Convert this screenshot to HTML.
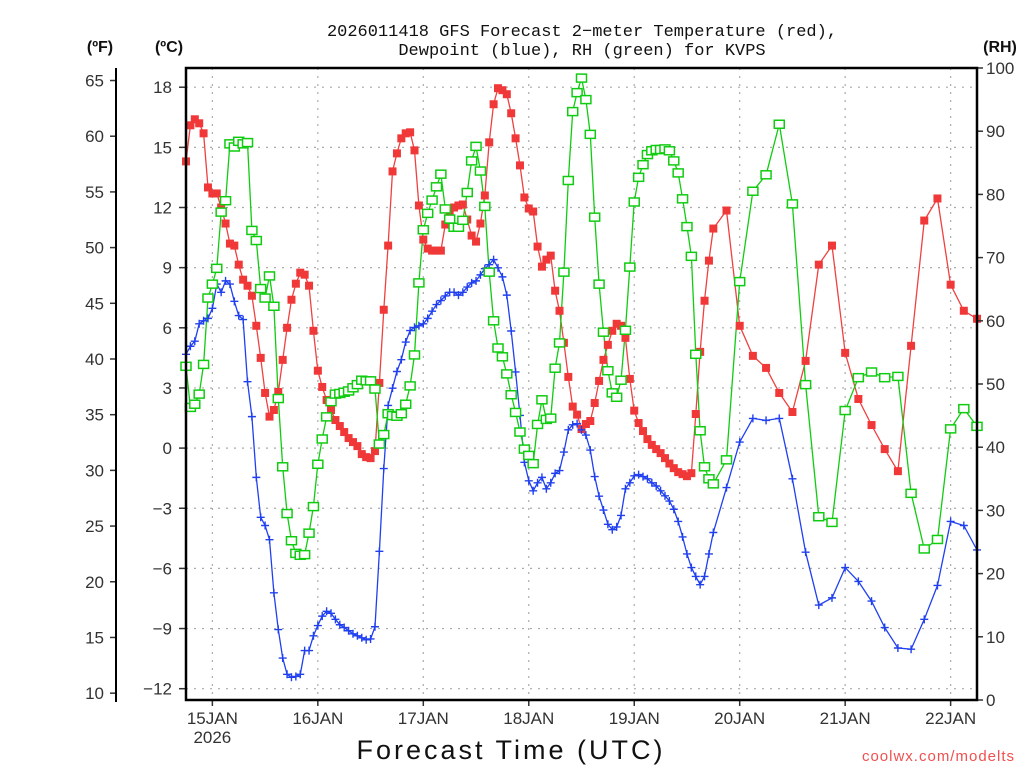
<!DOCTYPE html>
<html><head><meta charset="utf-8"><style>
html,body{margin:0;padding:0;background:#fff;}
svg{display:block;font-family:"Liberation Sans","DejaVu Sans",sans-serif;}
</style></head><body>
<svg id="chart" width="1024" height="768" viewBox="0 0 1024 768" xmlns="http://www.w3.org/2000/svg">
<rect x="0" y="0" width="1024" height="768" fill="#fff"/>
<g id="grid"></g>
<g id="series"></g>
<g id="axes"></g>
<text x="582" y="36" text-anchor="middle" font-size="17" fill="#111" font-family="Liberation Mono, monospace">2026011418 GFS Forecast 2−meter Temperature (red),</text>
<text x="582" y="55" text-anchor="middle" font-size="17" fill="#111" font-family="Liberation Mono, monospace">Dewpoint (blue), RH (green) for KVPS</text>
<text x="100" y="52" text-anchor="middle" font-size="16" font-weight="bold" fill="#111">(ºF)</text>
<text x="169" y="52" text-anchor="middle" font-size="16" font-weight="bold" fill="#111">(ºC)</text>
<text x="1000" y="52" text-anchor="middle" font-size="16" font-weight="bold" fill="#111">(RH)</text>
<text x="511" y="759" text-anchor="middle" font-size="27" letter-spacing="3" fill="#111">Forecast Time (UTC)</text>
<text x="1015" y="761" text-anchor="end" font-size="15" letter-spacing="1" fill="#f05050">coolwx.com/modelts</text>
</svg>
<script>
const hours=[0,1,2,3,4,5,6,7,8,9,10,11,12,13,14,15,16,17,18,19,20,21,22,23,24,25,26,27,28,29,30,31,32,33,34,35,36,37,38,39,40,41,42,43,44,45,46,47,48,49,50,51,52,53,54,55,56,57,58,59,60,61,62,63,64,65,66,67,68,69,70,71,72,73,74,75,76,77,78,79,80,81,82,83,84,85,86,87,88,89,90,91,92,93,94,95,96,97,98,99,100,101,102,103,104,105,106,107,108,109,110,111,112,113,114,115,116,117,118,119,120,123,126,129,132,135,138,141,144,147,150,153,156,159,162,165,168,171,174,177,180];
const tempC=[14.3,16.1,16.4,16.2,15.7,13.0,12.7,12.7,12.0,11.2,10.2,10.1,9.15,8.4,8.1,7.6,6.1,4.5,2.75,1.57,1.9,2.8,4.4,6.0,7.4,8.2,8.75,8.65,8.1,5.85,3.86,3.05,2.4,1.9,1.4,1.1,0.8,0.5,0.3,0.1,-0.3,-0.45,-0.5,-0.15,3.25,6.9,10.1,13.8,14.7,15.45,15.7,15.75,14.85,12.1,10.4,9.95,9.85,9.85,9.85,11.15,11.6,12.0,12.1,12.15,11.4,10.6,10.3,11.2,12.6,15.25,17.15,17.95,17.85,17.65,16.7,15.45,14.1,12.5,11.95,11.8,10.05,9.05,9.4,9.6,7.85,6.85,5.25,3.55,2.07,1.67,0.95,1.2,1.35,2.25,3.35,4.4,5.15,5.85,6.2,6.1,5.5,3.45,1.87,1.25,0.85,0.45,0.16,-0.05,-0.25,-0.5,-0.77,-1.0,-1.2,-1.3,-1.4,-1.25,1.7,4.8,7.35,9.35,10.95,11.85,6.1,4.6,4.0,2.75,1.8,4.35,9.15,10.1,4.75,2.45,1.15,-0.05,-1.15,5.1,11.35,12.45,8.15,6.85,6.45];
const dewC=[4.68,5.08,5.33,6.2,6.35,6.47,6.97,8.18,7.77,8.34,8.18,7.32,6.61,6.41,3.31,1.57,-1.46,-3.45,-3.86,-4.57,-7.22,-9.05,-10.47,-11.28,-11.43,-11.39,-11.28,-10.1,-10.1,-9.36,-8.85,-8.38,-8.14,-8.24,-8.54,-8.81,-8.95,-9.11,-9.26,-9.36,-9.46,-9.56,-9.52,-8.91,-5.15,-1.02,2.13,2.99,3.82,4.41,5.29,5.86,6.02,6.1,6.2,6.47,6.83,7.16,7.36,7.59,7.77,7.77,7.63,7.77,8.03,8.24,8.34,8.64,8.95,9.15,9.4,8.99,8.54,7.63,5.84,3.8,1.63,-0.71,-1.63,-2.13,-1.73,-1.46,-2.03,-1.73,-1.26,-1.12,-0.2,0.91,1.16,1.22,0.91,0.65,-0.1,-1.42,-2.4,-3.09,-3.8,-4.07,-3.93,-3.36,-2.03,-1.73,-1.38,-1.32,-1.42,-1.53,-1.73,-1.89,-2.13,-2.38,-2.64,-3.05,-3.66,-4.43,-5.28,-5.96,-6.4,-6.81,-6.4,-5.28,-4.21,-1.97,0.3,1.48,1.38,1.48,-1.53,-5.19,-7.83,-7.47,-5.96,-6.65,-7.63,-8.95,-9.97,-10.03,-8.54,-6.85,-3.66,-3.86,-5.08];
const rhPct=[52.8,46.3,46.8,48.4,53.1,63.6,65.8,68.3,77.2,79.0,88.0,87.5,88.4,88.0,88.2,74.3,72.7,65.1,63.6,67.1,62.3,47.7,36.9,29.5,25.2,23.2,22.9,23.0,26.4,30.6,37.3,41.3,44.8,47.2,48.4,48.5,48.7,48.9,49.4,49.9,50.6,50.5,50.5,49.2,40.5,42.0,45.3,45.0,44.9,45.3,46.8,49.7,54.6,66.0,74.4,77.0,79.1,81.2,83.2,77.7,76.1,74.8,74.8,75.9,80.3,85.3,87.6,83.7,78.1,67.7,60.0,55.7,54.3,51.6,48.3,45.5,42.4,39.7,38.7,37.4,43.6,47.5,44.4,44.6,52.5,56.5,67.7,82.2,93.1,96.1,98.4,95.0,89.5,76.4,65.8,58.2,52.1,48.6,47.9,50.6,58.5,68.5,78.8,82.7,84.7,86.3,86.9,87.1,87.1,87.2,86.9,85.3,83.4,79.3,74.9,70.2,54.7,42.6,36.9,35.0,34.2,38.0,66.2,80.5,83.1,91.1,78.5,49.9,29.0,28.1,45.8,51.0,51.9,51.0,51.2,32.7,23.9,25.4,42.9,46.1,43.3];
const cTicks=[18,15,12,9,6,3,0,-3,-6,-9,-12];
const cTickLabels=["18","15","12","9","6","3","0","−3","−6","−9","−12"];
const fTicks=[65,60,55,50,45,40,35,30,25,20,15,10];
const rhTicks=[100,90,80,70,60,50,40,30,20,10,0];
const dayHours=[6,30,54,78,102,126,150,174];
const dayLabels=["15JAN","16JAN","17JAN","18JAN","19JAN","20JAN","21JAN","22JAN"];

const NS="http://www.w3.org/2000/svg";
const L=186,R=977,T=68,B=700;
const xS=h=>L+(h-0)*(R-L)/180;
const yC=c=>448.1-20.05*c;
const yF=f=>yC((f-32)*5/9);
const yRH=r=>B-(r/100)*(B-T);
function mk(tag,attrs,parent){const e=document.createElementNS(NS,tag);for(const k in attrs)e.setAttribute(k,attrs[k]);parent.appendChild(e);return e;}
const grid=document.getElementById('grid'),axes=document.getElementById('axes'),ser=document.getElementById('series');

cTicks.forEach((c,i)=>{
  const y=yC(c);
  const g=mk('line',{x1:L,x2:R,y1:y,y2:y,stroke:'#aaa','stroke-width':1.2,'stroke-dasharray':'2,6'},grid);
  
  
  const t=mk('line',{x1:L-7,x2:L,y1:y,y2:y,stroke:'#333','stroke-width':1.5},axes);
  
  
  const tx=mk('text',{x:L-14,y:y+6,'text-anchor':'end','font-size':17,fill:'#333'},axes);
  tx.textContent=cTickLabels[i];
  
  
});
dayHours.forEach((h,i)=>{
  const x=xS(h);
  const g=mk('line',{x1:x,x2:x,y1:T,y2:B,stroke:'#aaa','stroke-width':1.2,'stroke-dasharray':'2,6'},grid);
  
  
  const t=mk('line',{x1:x,x2:x,y1:B,y2:B+6,stroke:'#333','stroke-width':1.5},axes);
  
  
  const tx=mk('text',{x:x,y:B+24,'text-anchor':'middle','font-size':17,fill:'#333'},axes);
  tx.textContent=dayLabels[i];
  
  
});
const yr=mk('text',{x:xS(6),y:B+43,'text-anchor':'middle','font-size':17,fill:'#333'},axes);
yr.textContent='2026';



fTicks.forEach(f=>{
  const y=yF(f);
  const t=mk('line',{x1:110,x2:116,y1:y,y2:y,stroke:'#333','stroke-width':1.5},axes);
  
  
  const tx=mk('text',{x:104,y:y+6,'text-anchor':'end','font-size':17,fill:'#333'},axes);
  tx.textContent=String(f);
  
  
});
rhTicks.forEach(r=>{
  const y=yRH(r);
  const t=mk('line',{x1:R,x2:R+6,y1:y,y2:y,stroke:'#333','stroke-width':1.5},axes);
  
  
  const tx=mk('text',{x:R+9,y:y+6,'text-anchor':'start','font-size':17,fill:'#333'},axes);
  tx.textContent=String(r);
  
  
});
const fa=mk('line',{x1:116,x2:116,y1:T,y2:B+2,stroke:'#000','stroke-width':2},axes);


const fr=mk('path',{d:`M${L},${T}H${R}V${B}H${L}Z`,fill:'none',stroke:'#000','stroke-width':2.5},axes);



function series(vals,yf,color,name){
  const pts=hours.map((h,i)=>[xS(h),yf(vals[i])]);
  const p=mk('polyline',{points:pts.map(p=>p[0].toFixed(1)+','+p[1].toFixed(1)).join(' '),fill:'none',stroke:color,'stroke-width':1.3},ser);
  
  
  return pts;
}
const tp=series(tempC,yC,'#f04040','temperature');
const dp=series(dewC,yC,'#2040f0','dewpoint');
const rp=series(rhPct,yRH,'#10cc10','rh');
tp.forEach(p=>{
  const m=mk('rect',{x:p[0]-4,y:p[1]-4,width:8,height:8,fill:'#f03838'},ser);
  
  
});
dp.forEach(p=>{
  const m=mk('path',{d:`M${p[0]-4},${p[1]}h8M${p[0]},${p[1]-4}v8`,stroke:'#2040f0','stroke-width':1.4},ser);
  
  
});
rp.forEach(p=>{
  const m=mk('rect',{x:p[0]-5,y:p[1]-4,width:10,height:8,fill:'#fff',stroke:'#10cc10','stroke-width':1.5},ser);
  
  
});
</script>
</body></html>
